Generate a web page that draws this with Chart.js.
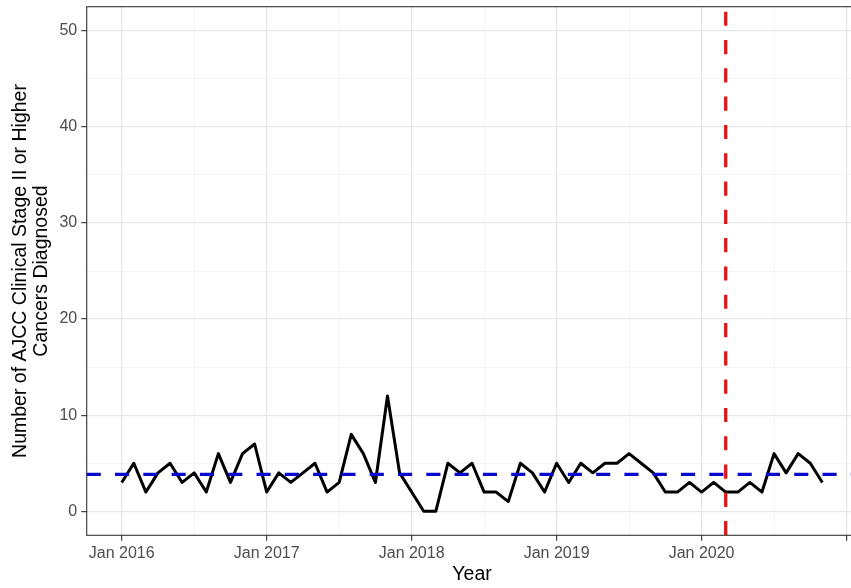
<!DOCTYPE html>
<html>
<head>
<meta charset="utf-8">
<script src="https://cdn.jsdelivr.net/npm/chart.js@4.4.0/dist/chart.umd.min.js"></script>
<style>
  html, body { margin: 0; padding: 0; background: #fff; overflow: hidden; }
  #wrap { width: 862px; height: 588px; }
</style>
</head>
<body>
<div id="wrap"><canvas id="myChart"></canvas></div>
<script>
// monthly counts, Jan .. Dec of each year (2020 ends in Nov)
const years = [2016, 2017, 2018, 2019, 2020]
const counts2016 = [3, 5, 2, 4, 5, 3, 4, 2, 6, 3, 6, 7]
const counts2017 = [2, 4, 3, 4, 5, 2, 3, 8, 6, 3, 12, 4]
const counts2018 = [2, 0, 0, 5, 4, 5, 2, 2, 1, 5, 4, 2]
const counts2019 = [5, 3, 5, 4, 5, 5, 6, 5, 4, 2, 2, 3]
const counts2020 = [2, 3, 2, 2, 3, 2, 6, 4, 6, 5, 3]
const meanCount = 3.84
const cutoffMonth = 50 // Mar 2020, months counted from Jan 2016

// Jan 2021 tick is drawn but its label falls off the picture
const xTickLabels = ['Jan 2016', 'Jan 2017', 'Jan 2018', 'Jan 2019', 'Jan 2020', '']
const yTickLabels = ['0', '10', '20', '30', '40', '50']

const xMin = -2.9, xMax = 60.9
const yMin = -2.5, yMax = 52.5
const family = "'Liberation Sans', Arial, sans-serif"

const countsByYear = [counts2016, counts2017, counts2018, counts2019, counts2020]
const points = []
years.forEach((yr, k) => {
    countsByYear[k].forEach((c, m) => points.push({ x: k * 12 + m, y: c }))
})

const xTicks = []
xTickLabels.forEach((l, i) => {
    xTicks.push(i * 12)
    if (i * 12 + 6 <= xMax) xTicks.push(i * 12 + 6)
})
const yTicks = []
yTickLabels.forEach((l, i) => {
    yTicks.push(i * 10)
    if (i * 10 + 5 <= yMax) yTicks.push(i * 10 + 5)
})

const isMajor = (ctx, step) => ctx.tick && ctx.tick.value % step === 0

const panelBorder = {
    id: 'panelBorder',
    afterDatasetsDraw(chart) {
        const { ctx, chartArea: a } = chart
        ctx.save()
        ctx.strokeStyle = '#333333'
        ctx.lineWidth = 1.1
        ctx.strokeRect(a.left, a.top, a.right - a.left, a.bottom - a.top)
        ctx.restore()
    }
}

const ctx = document.getElementById('myChart')

const chart = new Chart(ctx, {
    type: 'line',
    data: {
        datasets: [
            {
                // intervention date
                data: [{ x: cutoffMonth, y: yMax }, { x: cutoffMonth, y: yMin }],
                borderColor: '#ee1111',
                borderWidth: 3.3,
                borderDash: [14.15, 14.15],
                borderDashOffset: 23.3,
                pointRadius: 0
            },
            {
                // mean line
                data: [{ x: xMin, y: meanCount }, { x: xMax, y: meanCount }],
                borderColor: '#0a0acc',
                borderWidth: 3.3,
                borderDash: [14.15, 14.15],
                pointRadius: 0
            },
            {
                data: points,
                borderColor: '#000000',
                borderWidth: 3,
                borderJoinStyle: 'round',
                pointRadius: 0
            }
        ]
    },
    options: {
        responsive: true,
        maintainAspectRatio: false,
        animation: false,
        layout: { padding: { top: 6.7, right: 4.6, left: 0, bottom: 0 } },
        plugins: {
            legend: { display: false },
            tooltip: { enabled: false }
        },
        scales: {
            x: {
                type: 'linear',
                min: xMin,
                max: xMax,
                afterBuildTicks: s => { s.ticks = xTicks.map(v => ({ value: v })) },
                afterFit: s => {
                    s.height = 52.7
                    s.paddingLeft = 0
                    s.paddingRight = 0
                },
                border: { display: false },
                grid: {
                    color: c => isMajor(c, 12) ? '#e6e6e6' : '#efefef',
                    lineWidth: c => isMajor(c, 12) ? 1.3 : 0.7,
                    tickLength: 5.5,
                    tickWidth: 1.1,
                    tickColor: c => isMajor(c, 12) ? '#333333' : 'rgba(0,0,0,0)'
                },
                ticks: {
                    autoSkip: false,
                    maxRotation: 0,
                    padding: 3,
                    color: '#4d4d4d',
                    font: { size: 16, family: family },
                    callback: v => v % 12 === 0 ? xTickLabels[v / 12] : ''
                },
                title: {
                    display: true,
                    text: 'Year',
                    color: '#000000',
                    font: { size: 19.5, family: family },
                    padding: { top: 0, bottom: 2 }
                }
            },
            y: {
                min: yMin,
                max: yMax,
                afterBuildTicks: s => { s.ticks = yTicks.map(v => ({ value: v })) },
                afterFit: s => {
                    s.width = 86.7
                    s.paddingTop = 0
                    s.paddingBottom = 0
                },
                border: { display: false },
                grid: {
                    color: c => isMajor(c, 10) ? '#e6e6e6' : '#efefef',
                    lineWidth: c => isMajor(c, 10) ? 1.3 : 0.7,
                    tickLength: 5.5,
                    tickWidth: 1.1,
                    tickColor: c => isMajor(c, 10) ? '#333333' : 'rgba(0,0,0,0)'
                },
                ticks: {
                    padding: 4,
                    color: '#4d4d4d',
                    font: { size: 16, family: family },
                    callback: v => v % 10 === 0 ? yTickLabels[v / 10] : ''
                },
                title: {
                    display: true,
                    text: ['Number of AJCC Clinical Stage II or Higher', 'Cancers Diagnosed'],
                    color: '#000000',
                    font: { size: 19.5, family: family, lineHeight: 1.08 },
                    padding: { top: 10.5, bottom: 0 }
                }
            }
        }
    },
    plugins: [panelBorder]
})
</script>
</body>
</html>
